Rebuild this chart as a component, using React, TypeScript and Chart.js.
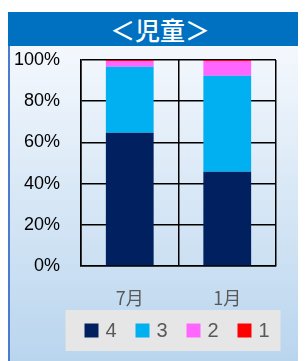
import React, { useEffect, useRef } from "react";
import { Chart, registerables } from "chart.js";

Chart.register(...registerables);

const categories = ["7月", "1月"];
const seriesLabels = ["4", "3", "2", "1"];
const series4 = [64.7, 45.8];
const series3 = [32.0, 46.6];
const series2 = [2.8, 7.1];
const series1 = [0.5, 0.5];
const seriesColors = ["#002060", "#00B0F0", "#FF66FF", "#FF0000"];
const yTicks = [0, 20, 40, 60, 80, 100];

const legendPlugin = {
  id: "customLegend",
  afterDraw(chart: any) {
    const { ctx, chartArea } = chart;
    const ds = chart.data.datasets;
    const spacing = 51;
    const box = 14;
    const total = (ds.length - 1) * spacing + 35;
    const cx = (chartArea.left + chartArea.right) / 2;
    const start = cx - total / 2;
    const top = chartArea.bottom + 44;
    const h = 41;
    ctx.save();
    ctx.fillStyle = "#E6E6E6";
    ctx.fillRect(start - 19, top, total + 27, h);
    const cy = top + h / 2;
    ctx.font = "20px 'Liberation Sans'";
    ctx.textBaseline = "middle";
    ctx.textAlign = "left";
    ds.forEach((d: any, i: number) => {
      const x = start + i * spacing;
      ctx.fillStyle = d.backgroundColor;
      ctx.fillRect(x, cy - box / 2, box, box);
      ctx.fillStyle = "#595959";
      ctx.fillText(d.label, x + box + 7, cy + 1);
    });
    ctx.restore();
  },
};

export default function App() {
  const ref = useRef<HTMLCanvasElement>(null);
  useEffect(() => {
    if (!ref.current) return;
    const values = [series4, series3, series2, series1];
    const chart = new Chart(ref.current, {
      type: "bar",
      data: {
        labels: categories,
        datasets: seriesLabels.map((l, i) => ({
          label: l,
          data: values[i],
          backgroundColor: seriesColors[i],
          borderWidth: 0,
          categoryPercentage: 1,
          barPercentage: 0.49,
        })),
      },
      options: {
        animation: false,
        responsive: false,
        maintainAspectRatio: false,
        layout: { padding: { left: 4, right: 30, top: 14, bottom: 52 } },
        plugins: {
          legend: { display: false },
          tooltip: { enabled: false },
          title: { display: false },
        },
        scales: {
          x: {
            stacked: true,
            grid: { color: "#000", lineWidth: 1.5, drawTicks: false, offset: true },
            border: { color: "#000", width: 1.5 },
            ticks: {
              color: "#595959",
              font: { family: "'Noto Sans CJK JP'", size: 18 },
              padding: 21,
            },
            afterFit: (axis: any) => {
              axis.height = 43;
            },
          },
          y: {
            stacked: true,
            min: 0,
            max: 100,
            afterBuildTicks: (axis: any) => {
              axis.ticks = yTicks.map((v) => ({ value: v }));
            },
            grid: { color: "#000", lineWidth: 1.5, drawTicks: false },
            border: { color: "#000", width: 1.5 },
            ticks: {
              color: "#000",
              font: { family: "'Liberation Sans'", size: 18 },
              padding: 21,
              callback: (v: any) => v + "%",
            },
            afterFit: (axis: any) => {
              axis.width = 67;
              axis.paddingTop = 11;
              axis.paddingBottom = 11;
            },
          },
        },
      },
      plugins: [legendPlugin],
    });
    return () => chart.destroy();
  }, []);

  return (
    <div style={{ width: 298, height: 349, marginTop: 4, position: "relative", overflow: "hidden" }}>
      <div
        style={{
          height: 34,
          background: "#0070C0",
          color: "#fff",
          fontFamily: "'Noto Sans CJK JP'",
          fontSize: 25,
          fontWeight: 500,
          lineHeight: "34px",
          textAlign: "center",
          paddingLeft: 6,
        }}
      >
        ＜児童＞
      </div>
      <div
        style={{
          position: "absolute",
          top: 34,
          left: 0,
          width: 296,
          height: 315,
          borderLeft: "2px solid #4A7BD0",
          background: "linear-gradient(#F4F8FD, #B9D5EE)",
        }}
      >
        <canvas ref={ref} width={296} height={315} style={{ display: "block" }} />
      </div>
    </div>
  );
}
